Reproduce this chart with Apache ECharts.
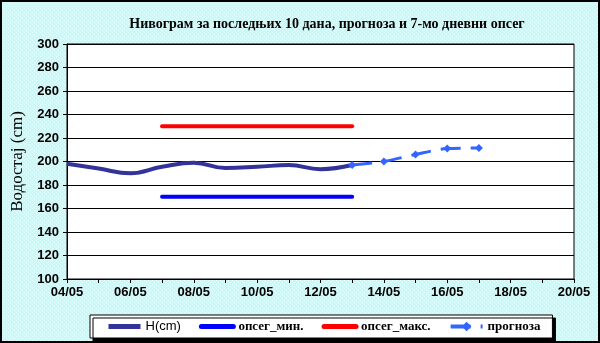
<!DOCTYPE html>
<html>
<head>
<meta charset="utf-8">
<script src="https://cdn.jsdelivr.net/npm/echarts@6/dist/echarts.min.js"></script>
<style>
  html, body { margin: 0; padding: 0; }
  #chart { width: 600px; height: 343px; box-sizing: border-box; border: 2px solid #000; }
</style>
</head>
<body>
<div id="chart"></div>
<script>
// Observed water level, last 10 days
const hDates = ['04/05', '05/05', '06/05', '07/05', '08/05', '09/05', '10/05', '11/05', '12/05', '13/05'];
const hValues = [198, 194, 190, 195.5, 199, 194.5, 195.5, 197, 193.5, 197];

// Forecast
const fDates = ['13/05', '14/05', '15/05', '16/05', '17/05'];
const fValues = [197, 200, 206, 211, 211.5];

// 7-day range
const rangeDates = ['07/05', '13/05'];
const rangeMin = [170, 170];
const rangeMax = [230, 230];

const xTicks = ['04/05', '06/05', '08/05', '10/05', '12/05', '14/05', '16/05', '18/05', '20/05'];
const yTicks = [100, 120, 140, 160, 180, 200, 220, 240, 260, 280, 300];

const dayNum = s => parseInt(s.slice(0, 2), 10);
const pairs = (dates, vals) => dates.map((d, i) => [dayNum(d), vals[i]]);

// dotted light-cyan backdrop
const pat = document.createElement('canvas');
pat.width = 4; pat.height = 4;
const pc = pat.getContext('2d');
pc.fillStyle = '#c8fafa';
pc.fillRect(0, 0, 4, 4);
pc.fillStyle = '#e6ffff';
pc.fillRect(0, 0, 1, 1);
pc.fillRect(2, 2, 1, 1);

const chart = echarts.init(document.getElementById('chart'));
const legendText = { fontFamily: 'Liberation Serif', fontWeight: 'bold', fontSize: 13, color: '#000' };
const lineOnly = name => ({ name, itemStyle: { opacity: 0 }, lineStyle: { width: 5 } });

chart.setOption({
  animation: false,
  backgroundColor: { image: pat, repeat: 'repeat' },
  title: {
    text: 'Нивограм за последњих 10 дана, прогноза и 7-мо дневни опсег',
    left: 320, top: 10, textAlign: 'center',
    textStyle: { fontFamily: 'Liberation Serif', fontWeight: 'bold', fontSize: 14, color: '#000' }
  },
  grid: {
    left: 65, right: 24, top: 42, bottom: 62, outerBoundsMode: 'none',
    show: true, backgroundColor: '#fff', borderColor: '#000', borderWidth: 1
  },
  xAxis: {
    type: 'value',
    min: dayNum(xTicks[0]), max: dayNum(xTicks[xTicks.length - 1]), interval: 2,
    axisLine: { lineStyle: { color: '#000', width: 1 } },
    axisTick: { show: true, length: 4, lineStyle: { color: '#000' } },
    minorTick: { show: true, splitNumber: 2, length: 4, lineStyle: { color: '#000' } },
    splitLine: { show: false },
    axisLabel: {
      margin: 7,
      fontFamily: 'Liberation Sans', fontWeight: 'bold', fontSize: 13, color: '#000',
      formatter: v => xTicks.find(t => dayNum(t) === v) || ''
    }
  },
  yAxis: {
    type: 'value',
    min: yTicks[0], max: yTicks[yTicks.length - 1], interval: 20,
    name: 'Водостај (cm)', nameLocation: 'middle', nameGap: 40,
    nameTextStyle: { fontFamily: 'Liberation Serif', fontSize: 17, color: '#000' },
    axisLine: { show: true, lineStyle: { color: '#000' } },
    axisTick: { show: true, length: 4, lineStyle: { color: '#000' } },
    splitLine: { lineStyle: { color: '#000', width: 1 } },
    axisLabel: { margin: 8, fontFamily: 'Liberation Sans', fontWeight: 'bold', fontSize: 13, color: '#000' }
  },
  legend: {
    left: 88, top: 313,
    padding: [5, 12, 5, 16],
    itemGap: 18, itemWidth: 32, itemHeight: 12,
    backgroundColor: '#fff', borderColor: '#000', borderWidth: 1,
    shadowColor: '#000', shadowOffsetX: 3, shadowOffsetY: 3, shadowBlur: 0,
    textStyle: Object.assign({}, legendText, { rich: { s: { fontFamily: 'Liberation Sans', fontSize: 13, fontWeight: 'normal', color: '#000' } } }),
    formatter: n => n === 'H(cm)' ? '{s|H(cm)}' : n,
    data: [lineOnly('H(cm)'), lineOnly('опсег_мин.'), lineOnly('опсег_макс.'), { name: 'прогноза', lineStyle: { width: 4 } }]
  },
  series: [
    {
      name: 'H(cm)', type: 'line', smooth: 0.45, symbol: 'none', z: 3,
      data: pairs(hDates, hValues),
      lineStyle: { color: '#333399', width: 4 }, itemStyle: { color: '#333399' }
    },
    {
      name: 'опсег_мин.', type: 'line', symbol: 'none',
      data: pairs(rangeDates, rangeMin),
      lineStyle: { color: '#0000ff', width: 4, cap: 'round' }, itemStyle: { color: '#0000ff' }
    },
    {
      name: 'опсег_макс.', type: 'line', symbol: 'none',
      data: pairs(rangeDates, rangeMax),
      lineStyle: { color: '#ff0000', width: 4, cap: 'round' }, itemStyle: { color: '#ff0000' }
    },
    {
      name: 'прогноза', type: 'line', smooth: 0.3, symbol: 'diamond', symbolSize: 8, z: 4,
      data: pairs(fDates, fValues),
      lineStyle: { color: '#3366ff', width: 3, type: [20, 10] },
      itemStyle: { color: '#3366ff' }
    }
  ]
});
</script>
</body>
</html>
